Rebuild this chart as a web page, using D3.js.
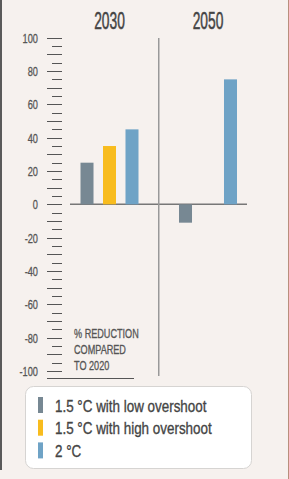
<!DOCTYPE html>
<html lang="en">
  <head>
    <meta charset="UTF-8" />
    <title>% reduction compared to 2020</title>
    <script src="https://cdnjs.cloudflare.com/ajax/libs/d3/7.8.5/d3.min.js"></script>
    <style>
      html, body { margin: 0; padding: 0; background: #f6f1ee; }
      svg { display: block; }
      .cond { font-family: "Liberation Sans Narrow", "Liberation Sans", sans-serif; }
    </style>
  </head>
  <body>
    <svg width="289" height="479"></svg>
    <script>
      // data
      var years = ["2030", "2050"];
      var series = ["1.5 °C with low overshoot", "1.5 °C with high overshoot", "2 °C"];
      var colors = ["#778893", "#f8bc1e", "#6fa3c6"];
      var values2030 = [25, 35, 45];
      var values2050 = [-11, null, 75];
      var tickLabels = [100, 80, 60, 40, 20, 0, -20, -40, -60, -80, -100];
      var noteLines = ["% REDUCTION", "COMPARED", "TO 2020"];

      var svg = d3.select("svg");

      // frame
      svg.append("rect").attr("x", 0).attr("y", 0).attr("width", 289).attr("height", 479).attr("fill", "#f6f1ee");
      svg.append("line").attr("x1", 1).attr("x2", 1).attr("y1", 0).attr("y2", 470)
        .attr("stroke", "#5a5a5a").attr("stroke-width", 2);
      svg.append("line").attr("x1", 288.5).attr("x2", 288.5).attr("y1", 0).attr("y2", 479)
        .attr("stroke", "#b88f7c").attr("stroke-width", 1);

      var y = d3.scaleLinear().domain([-100, 100]).range([371, 37.7]);
      var x = d3.scaleBand().domain(years).range([60.25, 257.25]);
      var xs = d3.scaleBand().domain(series).range([0, x.bandwidth() * 0.685])
        .paddingInner(0.422).paddingOuter(0.211);
      var innerOff = (x.bandwidth() - x.bandwidth() * 0.685) / 2;

      // condensed text helper (slight stroke to get a medium weight)
      function cText(g, tx, ty, txt, size, sx, anchor, fill, sw) {
        return g.append("text")
          .attr("class", "cond")
          .attr("transform", "translate(" + tx + "," + ty + ") scale(" + sx + ",1)")
          .attr("font-size", size)
          .attr("text-anchor", anchor || "start")
          .attr("fill", fill || "#444")
          .attr("stroke", fill || "#444")
          .attr("stroke-width", sw || 0.35)
          .text(txt);
      }

      // ruler ticks every 5
      var ticks = d3.range(-100, 101, 5);
      svg.append("g").selectAll("line").data(ticks).join("line")
        .attr("x1", d => (d % 10 === 0 ? 47 : 52))
        .attr("x2", 62)
        .attr("y1", d => Math.round(y(d)) + 0.5)
        .attr("y2", d => Math.round(y(d)) + 0.5)
        .attr("stroke", "#555")
        .attr("stroke-width", 1);

      tickLabels.forEach(function (v) {
        cText(svg, 38, y(v) + 5, v, 13, 0.71, "end", "#555", 0.3);
      });

      // base line under the ruler
      svg.append("line").attr("x1", 47).attr("x2", 134).attr("y1", 378.5).attr("y2", 378.5)
        .attr("stroke", "#555");

      // zero line
      svg.append("line").attr("x1", 70).attr("x2", 247)
        .attr("y1", y(0)).attr("y2", y(0))
        .attr("stroke", "#777").attr("stroke-width", 1.5);

      // divider
      svg.append("line").attr("x1", x("2050")).attr("x2", x("2050"))
        .attr("y1", 38).attr("y2", 376)
        .attr("stroke", "#999").attr("stroke-width", 1.5);

      // year titles
      years.forEach(function (yr) {
        cText(svg, x(yr) + x.bandwidth() / 2, 29, yr, 23, 0.6, "middle", "#444", 0.5);
      });

      // bars
      var rows = [];
      [values2030, values2050].forEach(function (vals, i) {
        vals.forEach(function (v, j) {
          if (v !== null) rows.push({ year: years[i], s: series[j], v: v, c: colors[j] });
        });
      });
      svg.append("g").selectAll("rect").data(rows).join("rect")
        .attr("x", d => x(d.year) + innerOff + xs(d.s))
        .attr("width", xs.bandwidth())
        .attr("y", d => y(Math.max(0, d.v)))
        .attr("height", d => Math.abs(y(d.v) - y(0)))
        .attr("fill", d => d.c);

      // note
      noteLines.forEach(function (t, i) {
        cText(svg, 74, 338 + i * 16, t, 12, 0.76, "start", "#555", 0.3);
      });

      // legend
      var lg = svg.append("g");
      lg.append("rect").attr("x", 25.5).attr("y", 386.5).attr("width", 226).attr("height", 82)
        .attr("rx", 8).attr("fill", "#fff").attr("stroke", "#d6d4d2");
      series.forEach(function (s, i) {
        var ty = 397 + i * 22.7;
        lg.append("rect").attr("x", 38).attr("y", ty).attr("width", 5).attr("height", 16).attr("fill", colors[i]);
        cText(lg, 55, ty + 14.5, s, 17, 0.79, "start", "#444", 0.35);
      });
    </script>
  </body>
</html>
